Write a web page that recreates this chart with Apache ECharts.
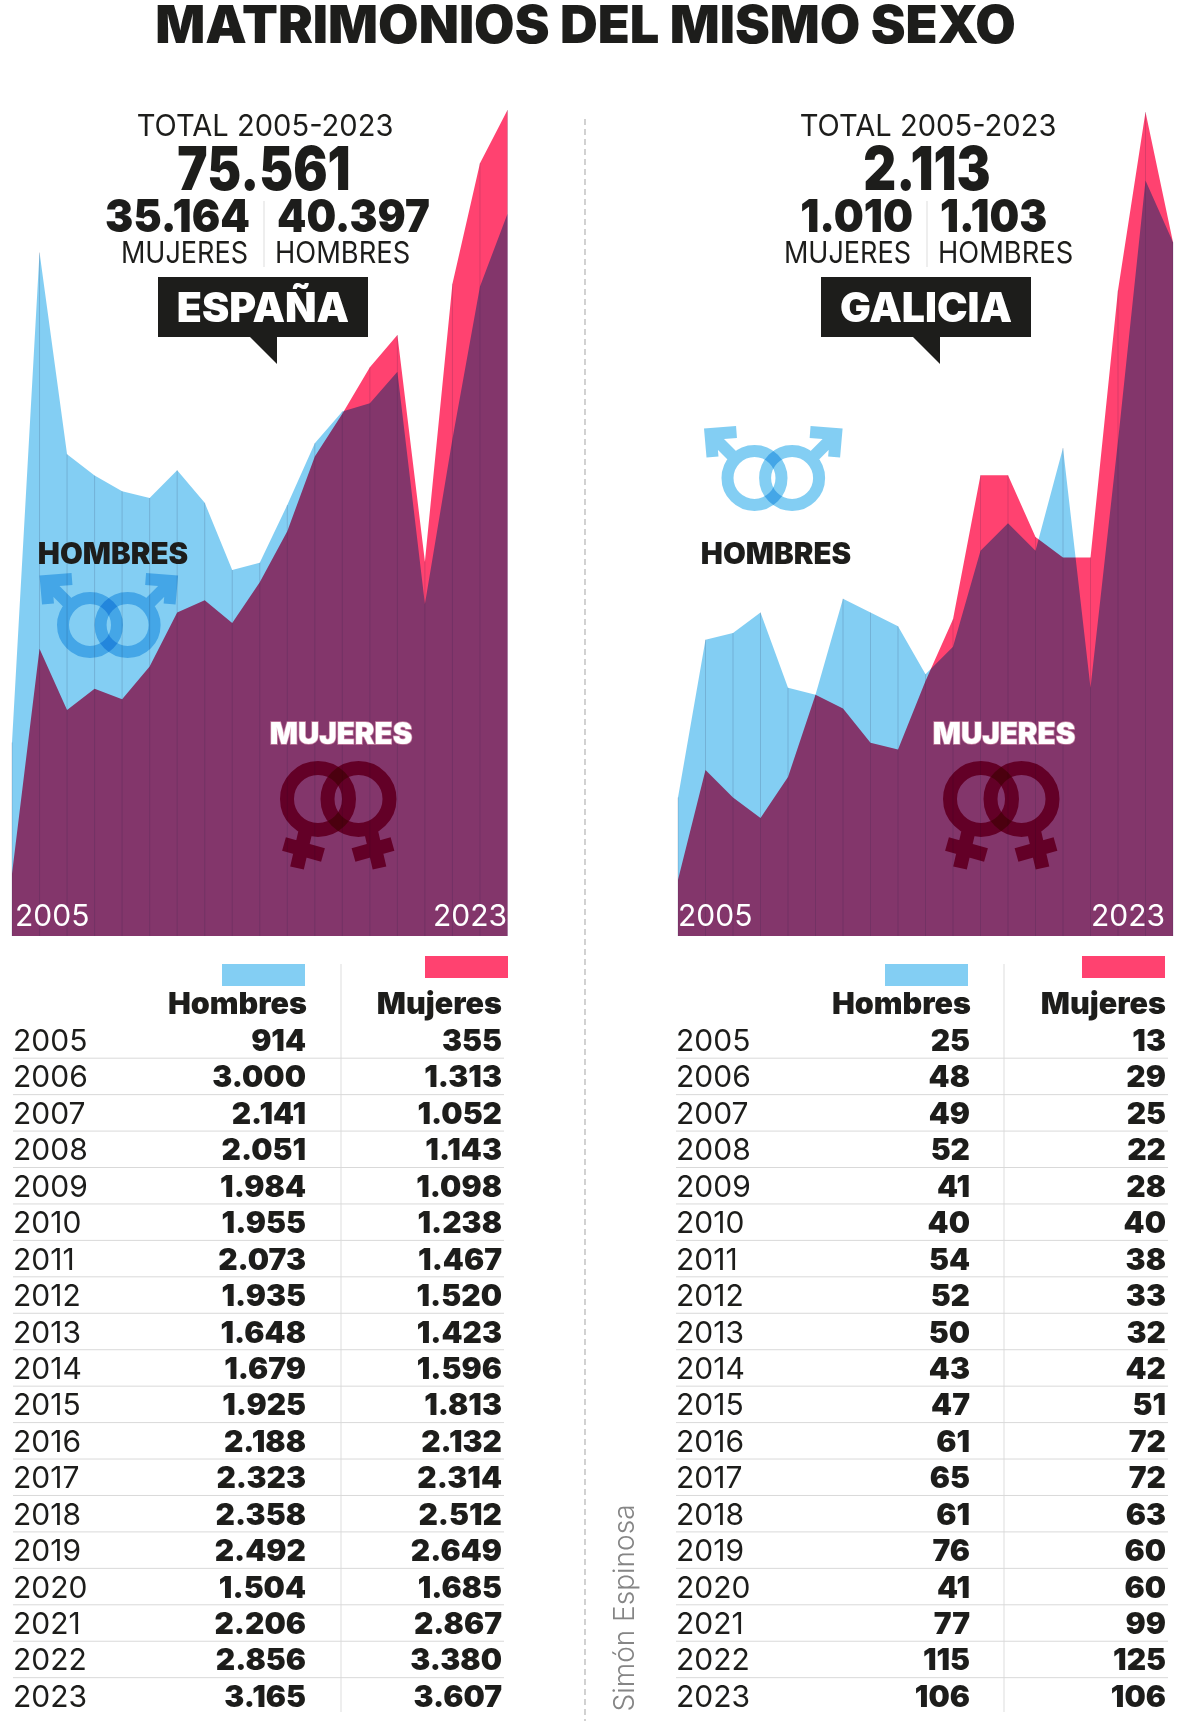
<!DOCTYPE html>
<html><head><meta charset="utf-8">
<style>html,body{margin:0;padding:0;background:#fff}#c{width:1200px;height:1721px}</style>
<script src="https://cdn.jsdelivr.net/npm/echarts@6/dist/echarts.min.js"></script>
</head><body><div id="c"></div>
<script>
const years = [2005,2006,2007,2008,2009,2010,2011,2012,2013,2014,2015,2016,2017,2018,2019,2020,2021,2022,2023];
const espHombres = [914,3000,2141,2051,1984,1955,2073,1935,1648,1679,1925,2188,2323,2358,2492,1504,2206,2856,3165];
const espMujeres = [355,1313,1052,1143,1098,1238,1467,1520,1423,1596,1813,2132,2314,2512,2649,1685,2867,3380,3607];
const galHombres = [25,48,49,52,41,40,54,52,50,43,47,61,65,61,76,41,77,115,106];
const galMujeres = [13,29,25,22,28,40,38,33,32,42,51,72,72,63,60,60,99,125,106];
const espTotals = ['75.561','35.164','40.397'];
const galTotals = ['2.113','1.010','1.103'];

const INK='#1d1d1b', BLUE='#83cef3', PINK='#ff4270', F='Inter, sans-serif';
const fmt = v => v>=1000 ? Math.floor(v/1000)+'.'+String(v%1000).padStart(3,'0') : String(v);
const g = [];
const txt = (text,x,y,font,fill,align,extra,sx) => g.push({type:'text',z:20,silent:true,x,y:y+2,scaleX:sx||1,style:Object.assign({text,x:0,y:0,font:font+' '+F,fill:fill||INK,textAlign:align||'center',textVerticalAlign:'middle'},extra||{})});
const rect = (x,y,w,h,fill) => g.push({type:'rect',z:15,silent:true,shape:{x,y,width:w,height:h},style:{fill}});
const line = (x1,y1,x2,y2,stroke,lw,dash) => g.push({type:'line',z:15,silent:true,shape:{x1,y1,x2,y2},style:{stroke,lineWidth:lw||1,lineDash:dash||null}});

function circ(r){return `M ${-r} 0 A ${r} ${r} 0 1 1 ${r} 0 A ${r} ${r} 0 1 1 ${-r} 0 Z `;}
const reg=(name,d)=>echarts.graphic.registerShape(name,echarts.graphic.extendPath(d,{}));
reg('maleL',circ(27)+'M -19 -19 L -42 -42 M -18 -46 L -44 -44 L -42 -21');
reg('maleR',circ(27)+'M 19 -19 L 42 -42 M 18 -46 L 44 -44 L 42 -21');
reg('femL',circ(31)+'M -12 30 L -21 69 M -34 45 L 5 56');
reg('femR',circ(31)+'M 12 30 L 21 69 M 34 45 L -5 56');
function sym(type,x,y,stroke,lw){g.push({type,z:16,silent:true,x,y,style:{fill:null,stroke,lineWidth:lw,blend:'multiply',lineJoin:'miter',lineCap:'butt'}});}
function male(cx,cy){ sym('maleL',cx,cy,BLUE,12); sym('maleR',cx+37.6,cy,BLUE,12); }
function female(cx,cy){ sym('femL',cx,cy,'#c1005d',14); sym('femR',cx+40.5,cy,'#c1005d',14); }

function panel(dx,name,totals,hombres,mujeres,tb){
  const cx=265+dx;
  txt('TOTAL 2005-2023',cx,125,'400 30px',INK,'center',null,.97);
  txt(totals[0],cx-1,170,'900 60px',INK,'center',null,.85);
  txt(totals[1],cx-15,216,'900 46px',INK,'right',null,.92);
  txt(totals[2],cx+12,216,'900 46px',INK,'left',null,.91);
  txt('MUJERES',cx-17,252,'400 30px',INK,'right',null,.9);
  txt('HOMBRES',cx+10,252,'400 30px',INK,'left',null,.91);
  line(cx-1,201,cx-1,267,'#dddddd',1);
  rect(158+dx,277,210,60,'#1d1d1b');
  g.push({type:'polygon',z:15,silent:true,shape:{points:[[250+dx,337],[277+dx,337],[277+dx,364]]},style:{fill:'#1d1d1b'}});
  txt(name,263+dx,308,'900 41px','#ffffff');
  txt('HOMBRES',113+dx,553,'900 29.5px');
  txt('MUJERES',341+dx,733,'900 29.5px','#ffffff','center',{stroke:'rgba(255,190,205,.55)',lineWidth:1.5});
  txt(String(years[0]),15+dx,915,'400 30px','#ffffff','left');
  txt(String(years[years.length-1]),507+dx-(dx?5:0),915,'400 30px','#ffffff','right');
  // table
  rect(tb.bx,964,83,22,BLUE); rect(tb.px,956,83,22,PINK);
  txt('Hombres',tb.h+1,1003,'900 30.5px',INK,'right');
  txt('Mujeres',tb.m,1003,'900 30.5px',INK,'right');
  line(tb.d,964,tb.d,1712,'#dddddd',1);
  years.forEach((y,i)=>{
    const ry=1040+i*36.44;
    txt(String(y),tb.y,ry,'400 30px',INK,'left');
    txt(fmt(hombres[i]),tb.h,ry,'900 30px',INK,'right');
    txt(fmt(mujeres[i]),tb.m,ry,'900 30px',INK,'right');
    if(i<years.length-1) line(tb.y,ry+18.2,tb.m+2,ry+18.2,'#d9d9d9',1);
  });
}
panel(0,'ESPAÑA',espTotals,espHombres,espMujeres,{bx:222,px:425,h:306,m:502,d:341,y:13});
panel(663,'GALICIA',galTotals,galHombres,galMujeres,{bx:885,px:1082,h:970,m:1166,d:1004,y:676});
male(90,625); male(754.5,478); female(318,799); female(981,799);
line(585,119,585,1721,'#b4b4b4',1.2,[6,4]);
g.push({type:'text',z:20,silent:true,x:626,y:1608,rotation:Math.PI/2,style:{text:'Simón Espinosa',x:0,y:0,font:'300 28px '+F,fill:'#858585',textAlign:'center',textVerticalAlign:'middle'}});

function series(idx,h,m){
  const tops=h.map((v,i)=>Math.max(v,m[i]));
  const area=(name,data,color)=>({name,type:'line',xAxisIndex:idx,yAxisIndex:idx,data,symbol:'none',lineStyle:{width:0},itemStyle:{color},areaStyle:{color,opacity:1},blendMode:'multiply',silent:true,z:2});
  return [area('Hombres',h,BLUE),area('Mujeres',m,PINK),
    {type:'bar',xAxisIndex:idx,yAxisIndex:idx,data:tops,barWidth:1,itemStyle:{color:'rgba(30,30,70,.16)'},silent:true,z:3}];
}
const axis=(i)=>({type:'category',gridIndex:i,data:years,boundaryGap:false,show:false});
const chart=echarts.init(document.getElementById('c'),null,{renderer:'canvas'});
chart.setOption({
  animation:false,backgroundColor:'#ffffff',
  title:{text:'MATRIMONIOS DEL MISMO SEXO',left:580.5,top:22,textAlign:'center',textVerticalAlign:'middle',textStyle:{fontFamily:F,fontWeight:900,fontSize:52.3,color:INK}},
  grid:[{left:12,width:495.5,top:110,height:826},{left:678,width:495,top:112,height:824}],
  xAxis:[axis(0),axis(1)],
  yAxis:[{type:'value',gridIndex:0,min:90,max:3607,show:false},{type:'value',gridIndex:1,min:4.8,max:125,show:false}],
  series:[...series(0,espHombres,espMujeres),...series(1,galHombres,galMujeres)],
  graphic:{elements:g}
});
</script></body></html>
